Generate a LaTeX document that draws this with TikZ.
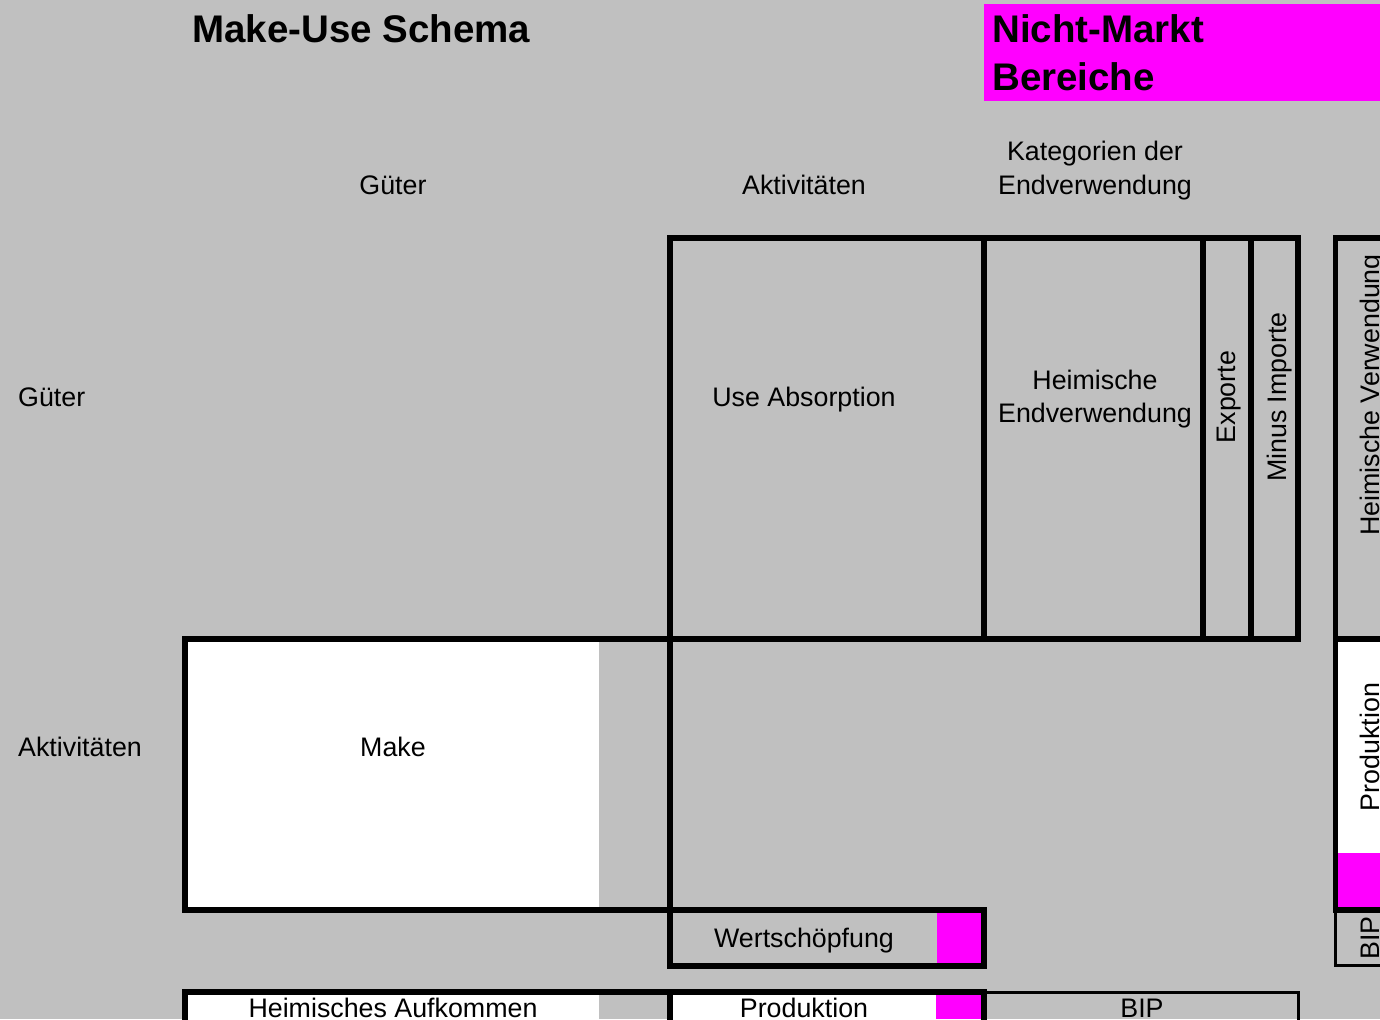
\documentclass[tikz,border=0pt]{standalone}
\usepackage{fontspec}
\setmainfont{Liberation Sans}
\definecolor{sheet}{HTML}{C0C0C0}
\definecolor{nonmarket}{HTML}{FF00FF}
\begin{document}
\begin{tikzpicture}[x=1pt,y=-1pt,
  lbl/.style={inner sep=0pt,anchor=base,font=\fontsize{26.8}{32}\selectfont},
  lblw/.style={lbl,anchor=base west},
  vlbl/.style={lbl,rotate=90},
  ttl/.style={inner sep=0pt,anchor=base west,font=\fontsize{38.5}{46}\selectfont\bfseries},
  heavy/.style={line width=5.5pt,line cap=rect},
  light/.style={line width=3pt,line cap=rect}]
\useasboundingbox (0,0) rectangle (1380,1019);
% sheet background
\fill[sheet] (0,0) rectangle (1380,1019);

% cell fills
\fill[nonmarket] (984,4) rectangle (1380,101);
\fill[white] (188,642) rectangle (599,907);
\fill[white] (188,995) rectangle (599,1019);
\fill[white] (673,995) rectangle (936,1019);
\fill[nonmarket] (936,995) rectangle (981,1019);
\fill[nonmarket] (937,913) rectangle (981,963);
\fill[white] (1338,642) rectangle (1380,853);
\fill[nonmarket] (1338,853) rectangle (1380,907);

% headings
\node[ttl] (title) at (192,43) {Make-Use Schema};
\node[ttl] (nm1) at (992,43) {Nicht-Markt};
\node[ttl] (nm2) at (992,91) {Bereiche};

\node[lbl] (colgoods) at (393,194.6) {Güter};
\node[lbl] (colact) at (804,194.6) {Aktivitäten};
\node[lbl] (colfin1) at (1095,160.6) {Kategorien der};
\node[lbl] (colfin2) at (1095,194.6) {Endverwendung};
\node[lblw] (rowgoods) at (18,406.6) {Güter};
\node[lblw] (rowact) at (18,756.6) {Aktivitäten};

% ruled blocks
\draw[heavy] (670,238) rectangle (1298,639);
\draw[heavy] (984,238) -- (984,639);
\draw[heavy] (1203,238) -- (1203,639);
\draw[heavy] (1251,238) -- (1251,639);
\draw[heavy] (185,639) rectangle (670,910);
\draw[heavy] (670,639) -- (670,966);
\draw[heavy] (670,910) rectangle (984,966);
\draw[heavy] (1380,238) -- (1335.5,238) -- (1335.5,910) -- (1380,910);
\draw[heavy] (1335.5,639) -- (1380,639);
\draw[light] (1335.5,910) -- (1335.5,965) -- (1385,965);
\draw[heavy] (185,1030) -- (185,992) -- (984,992) -- (984,1030);
\draw[heavy] (670,992) -- (670,1030);
\draw[light] (984,992) -- (1298,992) -- (1298,1030);

% cell texts
\node[lbl] (use) at (804,406.6) {Use Absorption};
\node[lbl] (dom1) at (1095,389.6) {Heimische};
\node[lbl] (dom2) at (1095,422.6) {Endverwendung};
\node[vlbl] (exp) at (1235.6,397) {Exporte};
\node[vlbl] (imp) at (1286,397) {Minus Importe};
\node[vlbl] (domuse) at (1379.6,395) {Heimische Verwendung};
\node[vlbl] (prodr) at (1379.6,747) {Produktion};
\node[vlbl] (bipr) at (1379.6,938) {BIP};
\node[lbl] (make) at (393,756.6) {Make};
\node[lbl] (va) at (804,947.6) {Wertschöpfung};
\node[lbl] (supply) at (393,1017.5) {Heimisches Aufkommen};
\node[lbl] (prodb) at (804,1017.5) {Produktion};
\node[lbl] (bipb) at (1142,1017.5) {BIP};
\end{tikzpicture}
\end{document}
